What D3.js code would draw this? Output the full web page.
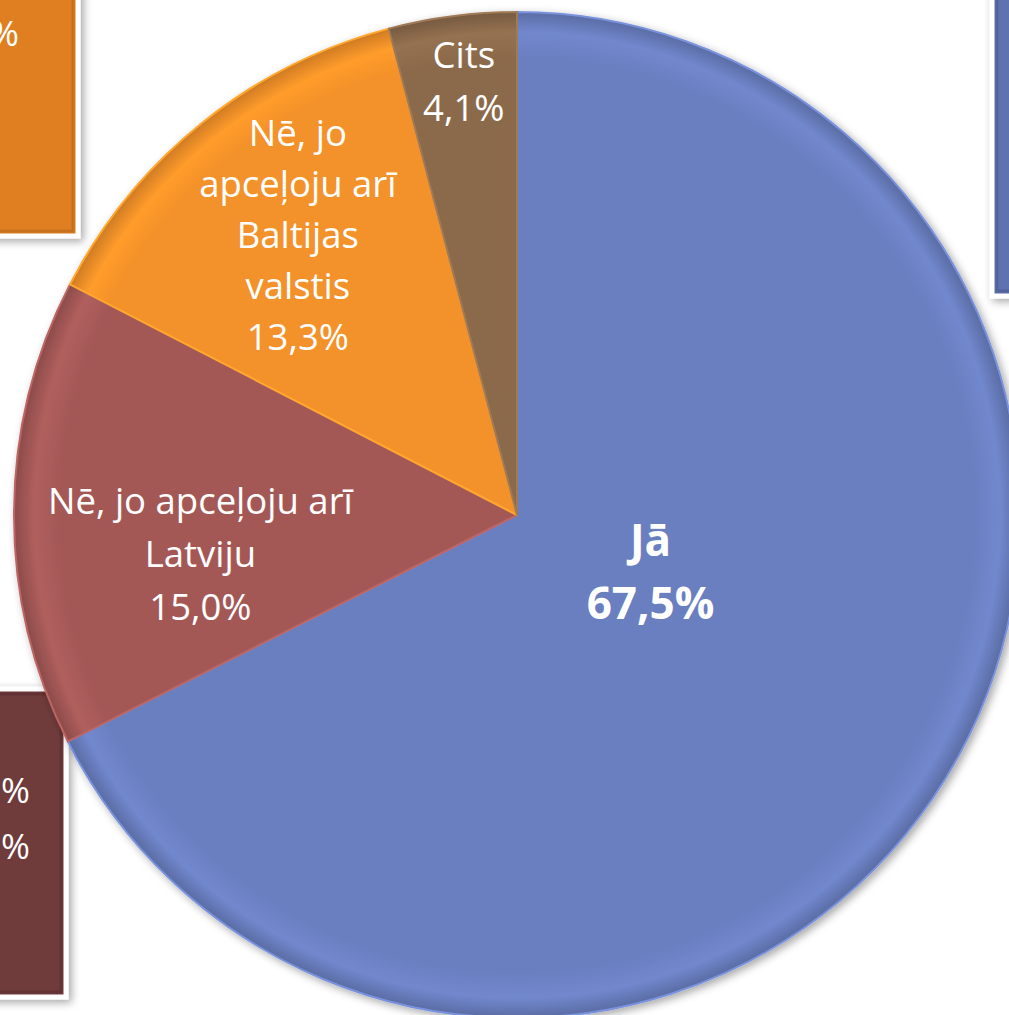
<!DOCTYPE html>
<html>
<head>
<meta charset="utf-8">
<title>Pie</title>
<script src="https://cdn.jsdelivr.net/npm/d3@7"></script>
<style>
  html, body { margin: 0; padding: 0; background: #fff; overflow: hidden; }
  svg { display: block; }
</style>
</head>
<body>
<script>
// data
var categories = ["Jā", "Nē, jo apceļoju arī Latviju", "Nē, jo apceļoju arī Baltijas valstis", "Cits"];
var values = [67.5, 15.0, 13.3, 4.1];
var labelLines = [
  ["Jā", "67,5%"],
  ["Nē, jo apceļoju arī", "Latviju", "15,0%"],
  ["Nē, jo", "apceļoju arī", "Baltijas", "valstis", "13,3%"],
  ["Cits", "4,1%"]
];

// styles / layout
var colors = ["#6a7fc0", "#a45857", "#f39129", "#8b6a4b"];
var w = 1009, h = 1015;
var cx = 517, cy = 515, r = 503;
var font = "'Open Sans', 'Noto Sans', sans-serif";
// label anchor: angle (deg clockwise from top), radius, line spacing
var labelPos = [
  {a: 113, r: 145, lh: 63, size: 44, bold: true},
  {a: 263, r: 319, lh: 53, size: 36.5, bold: false},
  {a: 322, r: 356, lh: 51, size: 36.5, bold: false},
  {a: 353, r: 437, lh: 53, size: 36.5, bold: false}
];

var svg = d3.select("body").append("svg")
  .attr("width", w).attr("height", h);

var defs = svg.append("defs");

var shadow = defs.append("filter").attr("id", "shadow")
  .attr("x", "-20%").attr("y", "-20%").attr("width", "140%").attr("height", "140%");
shadow.append("feDropShadow").attr("dx", 3).attr("dy", 3).attr("stdDeviation", 4)
  .attr("flood-color", "#000").attr("flood-opacity", 0.35);

// bevel-ish radial gradients (pie group is translated, so centre is 0,0)
colors.forEach(function (c, i) {
  var base = d3.color(c);
  var g = defs.append("radialGradient").attr("id", "grad" + i)
    .attr("gradientUnits", "userSpaceOnUse")
    .attr("cx", 0).attr("cy", 0).attr("r", r);
  g.append("stop").attr("offset", "0%").attr("stop-color", base);
  g.append("stop").attr("offset", "91%").attr("stop-color", base);
  g.append("stop").attr("offset", "96%").attr("stop-color", base.brighter(0.2));
  g.append("stop").attr("offset", "100%").attr("stop-color", base.darker(0.45));
});

// partial boxes from neighbouring elements (cut by the frame)
var boxes = [
  {x: -40, y: -20, w: 118, h: 256, fill: "#df7f20", texts: [{x: 19, y: 46, t: "%"}]},
  {x: 992, y: -20, w: 60, h: 316, fill: "#5f72b0", texts: []},
  {x: -40, y: 689, w: 106, h: 308, fill: "#6f3a3a", texts: [{x: 30, y: 803, t: "%"}, {x: 30, y: 859, t: "%"}]}
];

var boxG = svg.append("g");
boxes.forEach(function (b) {
  boxG.append("rect")
    .attr("x", b.x).attr("y", b.y).attr("width", b.w).attr("height", b.h)
    .attr("fill", b.fill)
    .attr("stroke", "#fff").attr("stroke-width", 5)
    .attr("filter", "url(#shadow)");
  // inner bevel edge
  boxG.append("rect")
    .attr("x", b.x + 5).attr("y", b.y + 5).attr("width", b.w - 10).attr("height", b.h - 10)
    .attr("fill", "none")
    .attr("stroke", d3.color(b.fill).darker(0.6)).attr("stroke-width", 3)
    .attr("stroke-opacity", 0.6);
  b.texts.forEach(function (t) {
    boxG.append("text")
      .attr("x", t.x).attr("y", t.y)
      .attr("text-anchor", "end")
      .attr("font-family", font)
      .attr("font-size", 35)
      .attr("fill", "#fff")
      .text(t.t);
  });
});

var pie = d3.pie().sort(null).value(function (d) { return d; });
var arc = d3.arc().innerRadius(0).outerRadius(r);
var arcs = pie(values);

var g = svg.append("g").attr("transform", "translate(" + cx + "," + cy + ")");

g.append("g")
  .attr("filter", "url(#shadow)")
  .selectAll("path.slice")
  .data(arcs)
  .enter()
  .append("path")
  .attr("class", "slice")
  .attr("d", arc)
  .attr("fill", function (d, i) { return "url(#grad" + i + ")"; })
  .attr("stroke", function (d, i) { return d3.color(colors[i]).brighter(0.4); })
  .attr("stroke-width", 2)
  .attr("stroke-linejoin", "round");

// labels
var lg = g.selectAll("g.label")
  .data(arcs)
  .enter()
  .append("g")
  .attr("class", "label")
  .attr("transform", function (d, i) {
    var p = labelPos[i];
    var a = p.a * Math.PI / 180;
    return "translate(" + (p.r * Math.sin(a)) + "," + (-p.r * Math.cos(a)) + ")";
  });

lg.each(function (d, i) {
  var p = labelPos[i];
  var lines = labelLines[i];
  var n = lines.length;
  var t = d3.select(this).append("text")
    .attr("text-anchor", "middle")
    .attr("font-family", font)
    .attr("font-size", p.size)
    .attr("font-weight", p.bold ? "bold" : "normal")
    .attr("fill", "#fff");
  lines.forEach(function (line, k) {
    t.append("tspan")
      .attr("x", 0)
      .attr("y", (k - (n - 1) / 2) * p.lh + p.size * 0.36)
      .text(line);
  });
});
</script>
</body>
</html>
